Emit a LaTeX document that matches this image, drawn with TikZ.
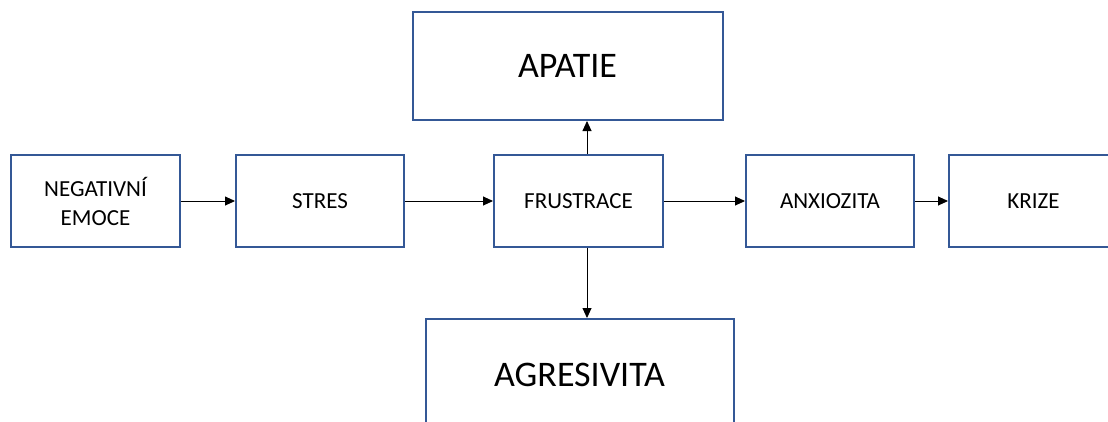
\documentclass[tikz,border=0pt]{standalone}
\usepackage{fontspec}
\setmainfont{Carlito}
\usetikzlibrary{arrows.meta}
\definecolor{boxblue}{RGB}{52,88,150}
\tikzset{
  box/.style={draw=boxblue, line width=2pt, fill=white, rectangle, inner sep=0pt,
    minimum height=92pt, align=center, font=\fontsize{23pt}{29pt}\selectfont},
  bigbox/.style={box, font=\fontsize{36pt}{42pt}\selectfont},
  conn/.style={draw=black, line width=0.9pt, -{Triangle[length=10pt,width=9pt]}}
}
\begin{document}
\begin{tikzpicture}[x=1pt,y=-1pt]
\useasboundingbox (0,0) rectangle (1108,421);
\clip (0,0) rectangle (1108,421);
\node[box, minimum width=169pt] (neg) at (95.5,201) {NEGATIVNÍ\\EMOCE};
\node[box, minimum width=168pt] (stres) at (320,201) {STRES};
\node[box, minimum width=169pt] (frus) at (578.5,201) {FRUSTRACE};
\node[box, minimum width=168pt] (anx) at (830,201) {ANXIOZITA};
\node[box, minimum width=169pt] (krize) at (1033.5,201) {KRIZE};
\node[bigbox, minimum width=310pt, minimum height=108pt] (apatie) at (567.5,66) {APATIE};
\node[bigbox, minimum width=308pt, minimum height=111pt] (agres) at (579.5,374.5) {AGRESIVITA};
\coordinate (v) at (587,0);
\draw[conn] (neg.east) -- (stres.west);
\draw[conn] (stres.east) -- (frus.west);
\draw[conn] (frus.east) -- (anx.west);
\draw[conn] (anx.east) -- (krize.west);
\draw[conn] (frus.north -| v) -- (apatie.south -| v);
\draw[conn] (frus.south -| v) -- (agres.north -| v);
\end{tikzpicture}
\end{document}
